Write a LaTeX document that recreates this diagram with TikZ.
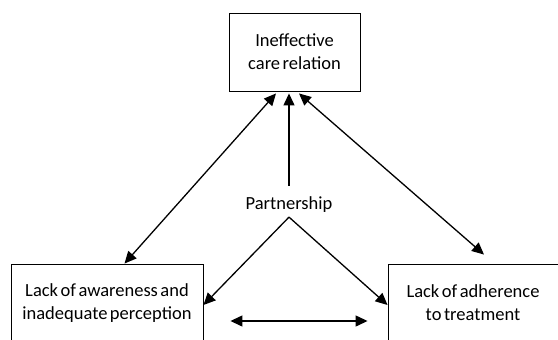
\documentclass[tikz,border=0pt]{standalone}
\usepackage{fontspec}
\setmainfont[WordSpace=0.6]{Carlito}
\usetikzlibrary{positioning}
\usetikzlibrary{arrows.meta}
\begin{document}
\begin{tikzpicture}[x=1pt,y=-1pt,
		box/.style = {fill = white, draw, rectangle, line width = 0.9pt, align = center, font = \fontsize{18.5}{23}\selectfont},
		link/.style = {black, line width = 1.3pt, {Triangle[length = 12pt, width = 11pt]}-{Triangle[length = 12pt, width = 11pt]}},
		onelink/.style = {black, line width = 1.3pt, -{Triangle[length = 12pt, width = 11pt]}}]
		\useasboundingbox (0,0) rectangle (558,340);
		\clip (0,0) rectangle (558,340);
		\node[box, minimum width = 131pt, minimum height = 78pt] at (294.5,52) (care) {Ineffective\\care relation};
		\node[box, minimum width = 192pt, minimum height = 78pt] at (107,303) (aware) {Lack of awareness and\\inadequate perception};
		\node[box, minimum width = 170pt, minimum height = 78pt] at (473,303) (adher) {Lack of adherence\\to treatment};
		\node[font = \fontsize{18.5}{23}\selectfont, inner sep = 3pt] at (289,205) (part) {Partnership};
		\draw[link] ([xshift = -18.5pt, yshift = -2pt]care.south) to ([xshift = 17.5pt]aware.north);
		\draw[link] ([xshift = 4.5pt, yshift = -2pt]care.south) to ([xshift = 11pt, yshift = 9pt]adher.north);
		\draw[onelink] ([yshift = 8pt]part.north) to ([yshift = -2pt]part.north |- care.south);
		\draw[onelink] ([yshift = -1pt]part.south) to ([yshift = -2pt]aware.east);
		\draw[onelink] ([yshift = -1pt]part.south) to ([yshift = -2pt]adher.west);
		\draw[link] ([xshift = 27pt, yshift = -18pt]aware.east) to ([xshift = -20pt, yshift = -18pt]adher.west);
	\end{tikzpicture}
\end{document}
